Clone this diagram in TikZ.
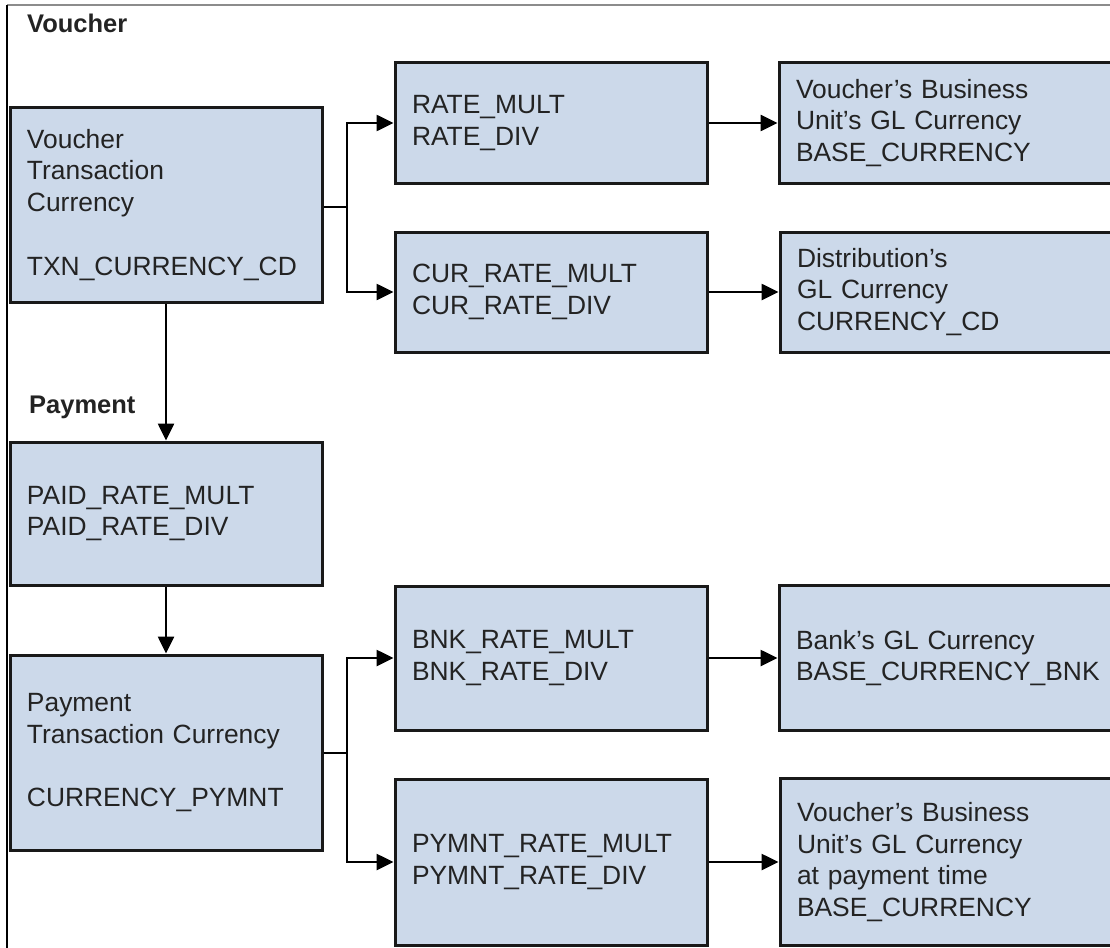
\documentclass[tikz,border=0pt]{standalone}
\usepackage{fontspec}
\setmainfont{Liberation Sans}
\usetikzlibrary{arrows.meta}
\definecolor{boxfill}{RGB}{204,217,234}
\definecolor{framegray}{RGB}{140,140,140}
\definecolor{txt}{RGB}{35,35,35}
\begin{document}
\begin{tikzpicture}[x=1pt,y=-1pt,
  box/.style 2 args={draw=black!90, line width=3pt, fill=boxfill, rectangle,
    text width=#1, minimum height=#2, inner xsep=17pt, inner ysep=0pt,
    align=left, font=\fontsize{26.4}{31.5}\selectfont, text=txt},
  head/.style={font=\fontsize{25.5}{30}\selectfont\bfseries, text=txt, inner sep=0pt, anchor=base west},
  conn/.style={draw=black, line width=2.6pt},
  arr/.style={conn, -{Triangle[length=17pt,width=16pt]}}]
\useasboundingbox (0,0) rectangle (1110,947);
\clip (0,0) rectangle (1110,947);
\fill[white] (0,0) rectangle (1110,947);
% frame
\draw[framegray, line width=1.4pt] (7,5) -- (1112,5);
\draw[black, line width=1.8pt] (7,5) -- (7,950);
% headings
\node[head] (hv) at (27,33) {Voucher};
\node[head] (hp) at (29,413) {Payment};
% boxes
\node[box={278pt}{194pt}] (v) at (166,205) {Voucher\\Transaction\\Currency\\[33pt]TXN\_CURRENCY\_CD};
\node[box={278pt}{120pt}] (rate) at (551,123) {RATE\_MULT\\RATE\_DIV};
\node[box={278pt}{120pt}] (cur) at (551,292) {CUR\_RATE\_MULT\\CUR\_RATE\_DIV};
\node[box={306pt}{120pt}] (vbu) at (949,123) {Voucher's Business\\Unit's GL Currency\\BASE\_CURRENCY};
\node[box={306pt}{120pt}] (dist) at (950,292) {Distribution's\\GL Currency\\CURRENCY\_CD};
\node[box={278pt}{143pt}] (paid) at (166,513.5) {PAID\_RATE\_MULT\\PAID\_RATE\_DIV};
\node[box={278pt}{195pt}] (pt) at (166,752.5) {Payment\\Transaction Currency\\[31.5pt]CURRENCY\_PYMNT};
\node[box={278pt}{144pt}] (bnk) at (551,658) {BNK\_RATE\_MULT\\BNK\_RATE\_DIV};
\node[box={278pt}{166pt}] (pymnt) at (551,862) {PYMNT\_RATE\_MULT\\PYMNT\_RATE\_DIV};
\node[box={306pt}{145pt}] (bank) at (949,658) {Bank's GL Currency\\BASE\_CURRENCY\_BNK};
\node[box={306pt}{167pt}] (vbu2) at (950,862) {Voucher's Business\\Unit's GL Currency\\at payment time\\BASE\_CURRENCY};
% branch points
\coordinate (b1) at (347,207);
\coordinate (b2) at (347,753);
% connectors
\draw[conn] (v.east |- b1) -- (b1);
\draw[arr] (b1) |- (rate.west);
\draw[arr] (b1) |- (cur.west);
\draw[arr] (rate.east) -- (vbu.west);
\draw[arr] (cur.east) -- (dist.west);
\draw[arr] (v.south) -- (paid.north);
\draw[arr] (paid.south) -- (pt.north);
\draw[conn] (pt.east |- b2) -- (b2);
\draw[arr] (b2) |- (bnk.west);
\draw[arr] (b2) |- (pymnt.west);
\draw[arr] (bnk.east) -- (bank.west);
\draw[arr] (pymnt.east) -- (vbu2.west);
\end{tikzpicture}
\end{document}
